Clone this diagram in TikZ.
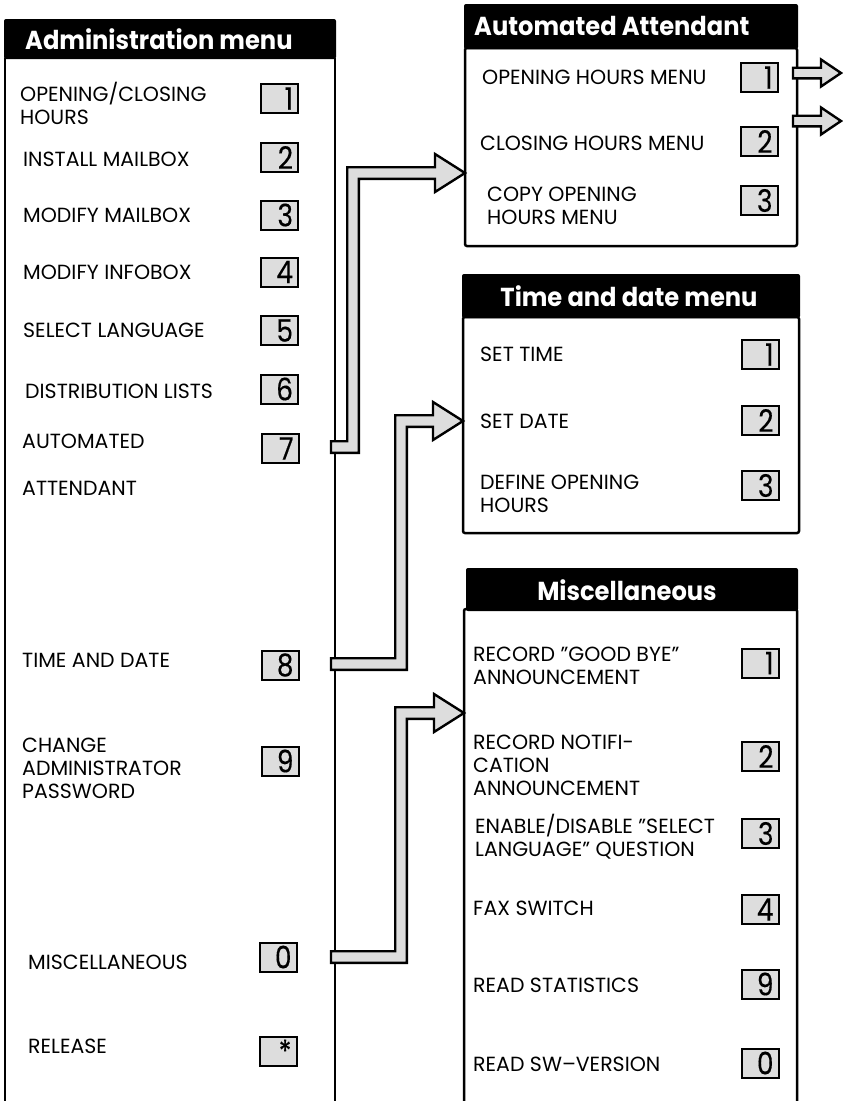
\documentclass[tikz,border=0pt]{standalone}
\usepackage{fontspec}
\usetikzlibrary{calc}
\newfontfamily\menufont{Poppins}
\newfontfamily\headfont[FakeStretch=0.93]{Poppins}
\newfontfamily\keyfamily[FakeStretch=0.85, FakeBold=0.3]{Poppins}
\definecolor{keygray}{HTML}{DDDDDD}
\newcommand{\itemfont}{\menufont\fontsize{20.5}{23}\selectfont}
\newcommand{\titlefont}{\headfont\bfseries\fontsize{26}{28}\selectfont}
\newcommand{\keyfont}{\keyfamily\fontsize{31}{31}\selectfont}
% hollow arrow: start, x of the riser, tip
\newcommand{\bendarrow}[3]{%
  \draw[fatarrow] let \p1=(#1), \p2=(#3) in
    (\x1,\y1+5.8pt) -- (#2pt-5.8pt,\y1+5.8pt) -- (#2pt-5.8pt,\y2+5.8pt)
    -- (\x2-30pt,\y2+5.8pt) -- (\x2-30pt,\y2+19pt) -- (\x2,\y2)
    -- (\x2-30pt,\y2-19pt) -- (\x2-30pt,\y2-5.8pt) -- (#2pt+5.8pt,\y2-5.8pt)
    -- (#2pt+5.8pt,\y1-5.8pt) -- (\x1,\y1-5.8pt) -- cycle;}
\newcommand{\straightarrow}[2]{%
  \draw[fatarrow] let \p1=(#1), \p2=(#2) in
    (\x1,\y1+5.3pt) -- (\x2-20pt,\y1+5.3pt) -- (\x2-20pt,\y1+13.5pt) -- (\x2,\y1)
    -- (\x2-20pt,\y1-13.5pt) -- (\x2-20pt,\y1-5.3pt) -- (\x1,\y1-5.3pt) -- cycle;}

\begin{document}
\begin{tikzpicture}[
  x=1pt, y=-1pt,
  menuframe/.style={line width=2.5pt},
  headbar/.style={fill=black, rounded corners=2pt},
  menutitle/.style={text=white, font=\titlefont, inner sep=0pt},
  menuitem/.style={anchor=west, align=left, inner sep=0pt, font=\itemfont},
  keybox/.style={draw, fill=keygray, line width=2pt, minimum height=29pt,
    text width=27pt, inner xsep=5pt, inner ysep=0pt, align=right, font=\keyfont},
  fatarrow/.style={draw, line width=2.4pt, fill=keygray, line join=miter}
]
\useasboundingbox (0,0) rectangle (843,1101);

% Administration menu
\draw[menuframe] (5,58) -- (5,1102);
\draw[menuframe] (335,58) -- (335,1102);
\fill[headbar] (4,19) rectangle (336,59);
\node[menutitle, anchor=west] (adm) at (25,39) {Administration menu};
\node[menuitem] (a1) at (20,103) {OPENING/CLOSING\\HOURS};
\node[keybox] (ka1) at (279.5,98.5) {1};
\node[menuitem] (a2) at (23,159) {INSTALL MAILBOX};
\node[keybox] (ka2) at (279.5,157.5) {2};
\node[menuitem] (a3) at (23,215) {MODIFY MAILBOX};
\node[keybox] (ka3) at (279.5,215) {3};
\node[menuitem] (a4) at (23,272) {MODIFY INFOBOX};
\node[keybox] (ka4) at (279.5,272) {4};
\node[menuitem] (a5) at (23,330) {SELECT LANGUAGE};
\node[keybox] (ka5) at (279.5,330.5) {5};
\node[menuitem] (a6) at (25,391) {DISTRIBUTION LISTS};
\node[keybox] (ka6) at (279.5,389) {6};
\node[menuitem] (a7) at (22,464.5) {AUTOMATED\\[24pt]ATTENDANT};
\node[keybox] (ka7) at (280,448.5) {7};
\node[menuitem] (a8) at (22,660) {TIME AND DATE};
\node[keybox] (ka8) at (280,665) {8};
\node[menuitem] (a9) at (22,768) {CHANGE\\ADMINISTRATOR\\PASSWORD};
\node[keybox] (ka9) at (280,761) {9};
\node[menuitem] (a0) at (28,962) {MISCELLANEOUS};
\node[keybox] (ka0) at (278,957) {0};
\node[menuitem] (ar) at (28,1046) {RELEASE};
\node[keybox] (kar) at (278,1051) {*};

% Automated Attendant
\draw[menuframe, rounded corners=2pt] (465,48) rectangle (797,246);
\fill[headbar] (464,4) rectangle (798,49);
\node[menutitle, anchor=west] (att) at (474,26) {Automated Attendant};
\node[menuitem] (b1) at (482,77) {OPENING HOURS MENU};
\node[keybox] (kb1) at (759,77.5) {1};
\node[menuitem] (b2) at (480,143) {CLOSING HOURS MENU};
\node[keybox] (kb2) at (759,141.5) {2};
\node[menuitem] (b3) at (487,206) {COPY OPENING\\HOURS MENU};
\node[keybox] (kb3) at (759,200.5) {3};

% Time and date menu
\draw[menuframe, rounded corners=2pt] (463,317) rectangle (799,533);
\fill[headbar] (462,274) rectangle (800,318);
\node[menutitle] (tim) at (629,296) {Time and date menu};
\node[menuitem] (c1) at (480,354) {SET TIME};
\node[keybox] (kc1) at (760,354.5) {1};
\node[menuitem] (c2) at (480,421) {SET DATE};
\node[keybox] (kc2) at (760,420.5) {2};
\node[menuitem] (c3) at (480,494) {DEFINE OPENING\\HOURS};
\node[keybox] (kc3) at (760,485.5) {3};

% Miscellaneous
\draw[menuframe, rounded corners=2pt] (464,1102) -- (464,609) -- (797,609) -- (797,1102);
\fill[headbar] (466,568) rectangle (798,611);
\node[menutitle] (mis) at (627,590) {Miscellaneous};
\node[menuitem] (d1) at (473,666) {RECORD ”GOOD BYE”\\ANNOUNCEMENT};
\node[keybox] (kd1) at (760,663) {1};
\node[menuitem] (d2) at (473,765) {RECORD NOTIFI-\\CATION\\ANNOUNCEMENT};
\node[keybox] (kd2) at (760,756.5) {2};
\node[menuitem] (d3) at (475,837) {ENABLE/DISABLE ”SELECT\\LANGUAGE” QUESTION};
\node[keybox] (kd3) at (760,833.5) {3};
\node[menuitem] (d4) at (473,908) {FAX SWITCH};
\node[keybox] (kd4) at (760,909.5) {4};
\node[menuitem] (d9) at (473,985) {READ STATISTICS};
\node[keybox] (kd9) at (760,984) {9};
\node[menuitem] (d0) at (473,1064) {READ SW–VERSION};
\node[keybox] (kd0) at (760,1063) {0};

% Connectors
\coordinate (src7) at (331,447);
\coordinate (dst7) at (465,173);
\coordinate (src8) at (331,664);
\coordinate (dst8) at (463,421);
\coordinate (src0) at (331,957);
\coordinate (dst0) at (464,713);
\bendarrow{src7}{353}{dst7}
\bendarrow{src8}{401}{dst8}
\bendarrow{src0}{401}{dst0}
\coordinate (out1) at (793,73);
\coordinate (end1) at (841,73);
\coordinate (out2) at (793,121);
\coordinate (end2) at (841,121);
\straightarrow{out1}{end1}
\straightarrow{out2}{end2}
\end{tikzpicture}
\end{document}
